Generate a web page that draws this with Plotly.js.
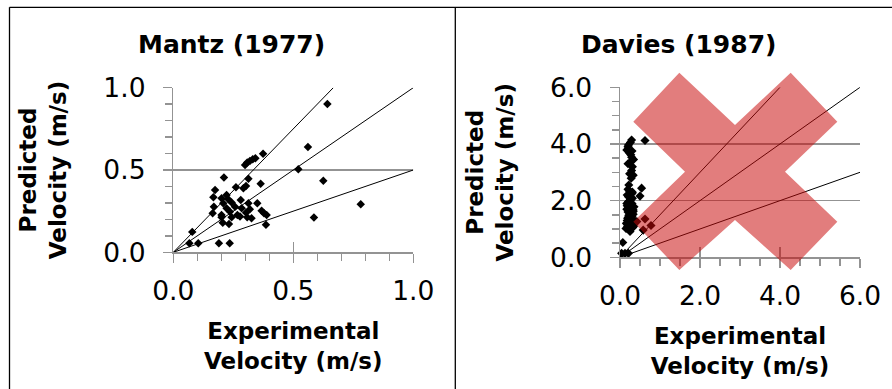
<!DOCTYPE html>
<html>
<head>
<meta charset="utf-8">
<script src="https://cdn.plot.ly/plotly-3.0.1.min.js"></script>
<style>
  html, body { margin: 0; padding: 0; background: #fff; }
  #chart { width: 892px; height: 389px; }
</style>
</head>
<body>
<div id="chart"></div>
<script>
// ---------------- data ----------------
const panelTitles = ["Mantz (1977)", "Davies (1987)"];
const xAxisTitle = "Experimental<br>Velocity (m/s)";
const yAxisTitle = "Predicted<br>Velocity (m/s)";

// reference lines through origin (predicted = k * experimental)
const refSlopes = [1.5, 1.0, 0.5];

const mantzRange = [0, 1];
const mantzX = [0.642,0.561,0.521,0.625,0.781,0.586,0.374,0.299,0.308,0.319,0.331,0.342,0.211,0.313,0.364,0.303,0.261,0.292,0.174,0.167,0.222,0.201,0.229,0.208,0.243,0.281,0.313,0.350,0.169,0.222,0.257,0.285,0.319,0.368,0.164,0.201,0.236,0.267,0.303,0.378,0.201,0.243,0.278,0.308,0.326,0.389,0.206,0.232,0.386,0.079,0.067,0.104,0.190,0.235];
const mantzY = [0.901,0.640,0.504,0.435,0.292,0.211,0.599,0.530,0.545,0.555,0.565,0.571,0.455,0.447,0.417,0.403,0.395,0.389,0.379,0.334,0.348,0.328,0.322,0.298,0.302,0.318,0.298,0.298,0.277,0.267,0.277,0.267,0.261,0.253,0.237,0.227,0.247,0.227,0.241,0.237,0.213,0.213,0.217,0.213,0.207,0.227,0.180,0.172,0.168,0.124,0.055,0.055,0.055,0.055];

const daviesRange = [0, 6];
const daviesX = [0.29,0.625,0.21,0.17,0.23,0.29,0.27,0.31,0.29,0.28,0.54,0.23,0.50,0.21,0.21,0.29,0.23,0.33,0.25,0.21,0.33,0.42,0.625,0.17,0.29,0.15,0.25,0.58,0.775,0.07,0.04,0.21,0.125,
                 0.25,0.30,0.18,0.30,0.26,0.20,0.30,0.22,0.20,0.24,0.19,0.27,0.32,0.22,0.28,0.18,0.26,0.31,0.24,0.20,0.27,
                 0.16,0.34,0.19,0.33,0.17,0.35,0.22,0.31,0.18,0.34,0.24,0.33,0.20,0.30,0.26,0.34,0.33,0.17,0.25,0.32];
const daviesY = [4.14,4.12,3.96,3.79,3.69,3.53,3.38,3.20,3.06,2.79,2.44,2.35,2.16,2.14,1.96,1.85,1.73,1.67,1.55,1.41,1.34,1.26,1.35,1.18,1.11,1.02,0.91,0.96,1.12,0.52,0.14,0.14,0.14,
                 2.00,1.90,1.30,1.45,1.22,1.60,2.25,2.55,3.90,1.05,1.10,1.28,1.15,1.48,1.62,1.82,2.05,2.30,2.95,3.30,3.62,
                 1.20,1.25,1.38,1.52,1.70,1.78,1.95,2.08,2.20,1.10,0.98,1.62,2.40,3.75,4.05,3.45,2.90,1.90,1.35,1.05];

// ---------------- layout helpers ----------------
const W = 892, H = 389;
const FONT = "DejaVu Sans";
const GREY = "#939393";
const px = v => v / W;
const py = v => 1 - v / H;

// plot areas in pixels [left, right, top, bottom]
const leftBox = [173.3, 413.3, 87.7, 252.3];
const rightBox = [620, 860, 87.3, 257.3];

function refLine(k, range, xa, ya) {
  const xEnd = Math.min(range[1], range[1] / k);
  return { x: [0, xEnd], y: [0, k * xEnd], xaxis: xa, yaxis: ya, mode: "lines",
           line: { color: "#000", width: 1 }, hoverinfo: "skip", showlegend: false, type: "scatter" };
}

const traces = [];
refSlopes.forEach(k => traces.push(refLine(k, mantzRange, "x", "y")));
refSlopes.forEach(k => traces.push(refLine(k, daviesRange, "x2", "y2")));
traces.push({ x: mantzX, y: mantzY, xaxis: "x", yaxis: "y", mode: "markers", type: "scatter",
  marker: { symbol: "diamond", size: 6.5, color: "#000" }, showlegend: false, cliponaxis: false });
traces.push({ x: daviesX, y: daviesY, xaxis: "x2", yaxis: "y2", mode: "markers", type: "scatter",
  marker: { symbol: "diamond", size: 7, color: "#000" }, showlegend: false, cliponaxis: false });
// empty traces so the inner-tick overlay axes get drawn
traces.push({ x: [], y: [], xaxis: "x3", yaxis: "y", type: "scatter", mode: "markers", showlegend: false });
traces.push({ x: [], y: [], xaxis: "x4", yaxis: "y2", type: "scatter", mode: "markers", showlegend: false });

function xAx(box, range, dtick, minor, anchor) {
  return {
    domain: [px(box[0]), px(box[1])], range: range, anchor: anchor,
    dtick: dtick, tick0: 0, tickformat: ".1f",
    ticks: "outside", ticklen: 9, tickwidth: 1.5, tickcolor: GREY,
    showline: true, linecolor: GREY, linewidth: 1.5,
    showgrid: false, zeroline: false, ticklabelstandoff: 5,
    minor: { dtick: minor, ticks: "outside", ticklen: 7, tickwidth: 1.5, tickcolor: GREY, showgrid: false },
    tickfont: { family: FONT, size: 26.5, color: "#000" },
    title: { text: xAxisTitle, standoff: 18, font: { family: FONT, size: 23, weight: "bold", color: "#000" } },
    fixedrange: true
  };
}
function yAx(box, range, dtick, minor, anchor) {
  return {
    domain: [py(box[3]), py(box[2])], range: range, anchor: anchor,
    dtick: dtick, tick0: 0, tickformat: ".1f",
    ticks: "outside", ticklen: 9, tickwidth: 1.5, tickcolor: GREY,
    showline: true, linecolor: GREY, linewidth: 1.5,
    showgrid: true, gridcolor: GREY, gridwidth: 1.5, zeroline: false, ticklabelstandoff: 12,
    minor: { dtick: minor, ticks: "outside", ticklen: 7, tickwidth: 1.5, tickcolor: GREY, showgrid: false },
    tickfont: { family: FONT, size: 26.5, color: "#000" },
    title: { text: yAxisTitle, standoff: 30, font: { family: FONT, size: 23, weight: "bold", color: "#000" } },
    fixedrange: true
  };
}
function innerTicks(box, range, dtick, over, anchor) {
  return {
    overlaying: over, anchor: anchor, domain: [px(box[0]), px(box[1])], range: range,
    dtick: dtick, tick0: 0, ticks: "inside", ticklen: 10, tickwidth: 1.5, tickcolor: GREY,
    showticklabels: false, showline: false, showgrid: false, zeroline: false, fixedrange: true
  };
}

// red cross overlay on the Davies panel (pixel vertices)
const crossPts = [[679.3,72.7],[735,125],[790.7,72.7],[837.3,121.7],[785,171.7],[837.3,221.7],
                  [790.7,270],[735,220],[679.3,270],[633.3,221.7],[685,171.7],[633.3,121.7]];
const crossPath = "M " + crossPts.map(p => px(p[0]).toFixed(5) + "," + py(p[1]).toFixed(5)).join(" L ") + " Z";

const borderLine = (x0, y0, x1, y1) => ({ type: "line", xref: "paper", yref: "paper",
  x0: px(x0), y0: py(y0), x1: px(x1), y1: py(y1), line: { color: "#000", width: 1.3 } });

const layout = {
  width: W, height: H,
  margin: { l: 0, r: 0, t: 0, b: 0, pad: 0 },
  paper_bgcolor: "#fff", plot_bgcolor: "#fff",
  showlegend: false,
  xaxis: xAx(leftBox, mantzRange, 0.5, 0.1, "y"),
  yaxis: yAx(leftBox, mantzRange, 0.5, 0.1, "x"),
  xaxis2: xAx(rightBox, daviesRange, 2, 0.5, "y2"),
  yaxis2: yAx(rightBox, daviesRange, 2, 0.5, "x2"),
  xaxis3: innerTicks(leftBox, mantzRange, 0.5, "x", "y"),
  xaxis4: innerTicks(rightBox, daviesRange, 2, "x2", "y2"),
  annotations: [
    { text: panelTitles[0], xref: "paper", yref: "paper", x: px(232), y: py(44), xanchor: "center", yanchor: "middle",
      showarrow: false, font: { family: FONT, size: 25, weight: "bold", color: "#000" } },
    { text: panelTitles[1], xref: "paper", yref: "paper", x: px(678), y: py(44), xanchor: "center", yanchor: "middle",
      showarrow: false, font: { family: FONT, size: 25, weight: "bold", color: "#000" } }
  ],
  shapes: [
    borderLine(9.5, 7.3, 892, 7.3),
    borderLine(9.5, 7.3, 9.5, 389),
    borderLine(455.3, 7.3, 455.3, 389),
    { type: "path", xref: "paper", yref: "paper", path: crossPath,
      fillcolor: "rgba(200,10,10,0.53)", line: { width: 0 }, layer: "above" }
  ]
};

Plotly.newPlot("chart", traces, layout, { displayModeBar: false, staticPlot: true });
</script>
</body>
</html>
